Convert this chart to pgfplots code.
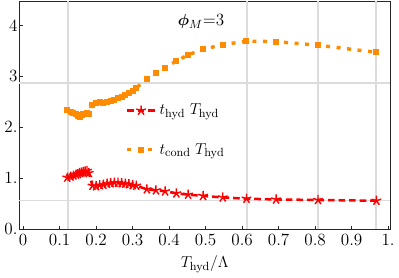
\documentclass[border=0pt]{standalone}
\usepackage{pgfplots}
\usepackage{bm}
\pgfplotsset{compat=1.18}
\definecolor{mOrange}{RGB}{255,140,0}
\definecolor{gridg}{RGB}{220,220,220}
\begin{document}
\begin{tikzpicture}
\begin{axis}[
  scale only axis,
  width=281pt, height=173pt,
  xmin=-0.01, xmax=1.005, ymin=0, ymax=4.48,
  axis line style={black!85, line width=0.6pt},
  tick align=inside, xtick pos=bottom, ytick pos=left,
  major tick length=2.5pt,
  tick style={black!85, line width=0.5pt},
  xtick={0,0.1,0.2,0.3,0.4,0.5,0.6,0.7,0.8,0.9,1},
  xticklabels={0,0.1,0.2,0.3,0.4,0.5,0.6,0.7,0.8,0.9,1.},
  ytick={0,1,2,3,4},
  yticklabels={0.,1.,2.,3,4},
  ticklabel style={font=\fontsize{13}{15}\selectfont},
  xticklabel style={yshift=0pt},
  yticklabel style={xshift=2pt},
  xlabel={$T_{\mathrm{hyd}}/\Lambda$},
  xlabel style={font=\fontsize{13}{15}\selectfont, yshift=-1pt},
  extra x ticks={0.123,0.614,0.808,0.968},
  extra x tick labels={},
  extra y ticks={0.56,2.87},
  extra y tick labels={},
  extra tick style={grid=major, major tick length=0pt, major grid style={gridg, line width=1.4pt}},
  legend style={at={(rel axis cs:0.285,0.56)}, anchor=north west, draw=none, fill=none,
     row sep=16pt, font=\fontsize{13}{15}\selectfont, inner sep=0pt},
  legend cell align=left,
  legend image code/.code={\draw[mark repeat=2,mark phase=2,#1] plot coordinates {(0cm,0cm) (0.375cm,0cm) (0.75cm,0cm)};},
]
\addplot[red, line width=1.9pt, dash pattern=on 5pt off 3pt, mark=star, mark size=3.8pt,
  mark options={solid, line width=1.1pt}] coordinates {
(0.121,1.01)(0.130,1.03)(0.138,1.05)(0.145,1.07)(0.150,1.08)(0.155,1.10)(0.160,1.11)(0.165,1.12)(0.170,1.13)(0.175,1.14)(0.180,1.10)
(0.190,0.85)(0.200,0.84)(0.210,0.86)(0.220,0.87)(0.230,0.89)(0.240,0.90)(0.250,0.91)(0.260,0.91)(0.270,0.90)(0.280,0.89)(0.290,0.88)(0.300,0.86)(0.310,0.85)
(0.339,0.78)(0.364,0.76)(0.389,0.74)(0.420,0.70)(0.452,0.675)(0.493,0.65)(0.547,0.62)(0.612,0.595)(0.693,0.58)(0.808,0.57)(0.968,0.555)
};
\addlegendentry{$t_{\mathrm{hyd}}\;T_{\mathrm{hyd}}$}
\addplot[mOrange, line width=2.6pt, dash pattern=on 3pt off 5pt, mark=square*, mark size=1.9pt,
  mark options={solid, line width=0pt}] coordinates {
(0.121,2.33)(0.130,2.30)(0.138,2.28)(0.145,2.26)(0.150,2.22)(0.155,2.20)(0.160,2.24)(0.165,2.26)(0.170,2.25)(0.175,2.27)(0.180,2.26)
(0.190,2.43)(0.200,2.48)(0.210,2.50)(0.220,2.47)(0.230,2.49)(0.240,2.51)(0.250,2.54)(0.260,2.57)(0.270,2.60)(0.280,2.64)(0.290,2.68)(0.300,2.72)(0.310,2.77)
(0.339,2.95)(0.364,3.06)(0.389,3.17)(0.420,3.30)(0.452,3.42)(0.493,3.53)(0.547,3.62)(0.612,3.69)(0.693,3.68)(0.808,3.61)(0.968,3.47)
};
\addlegendentry{$t_{\mathrm{cond}}\;T_{\mathrm{hyd}}$}
\node[font=\fontsize{13}{15}\selectfont] at (rel axis cs:0.49,0.91) {$\bm{\phi}_M$=3};
\end{axis}
\end{tikzpicture}
\end{document}
